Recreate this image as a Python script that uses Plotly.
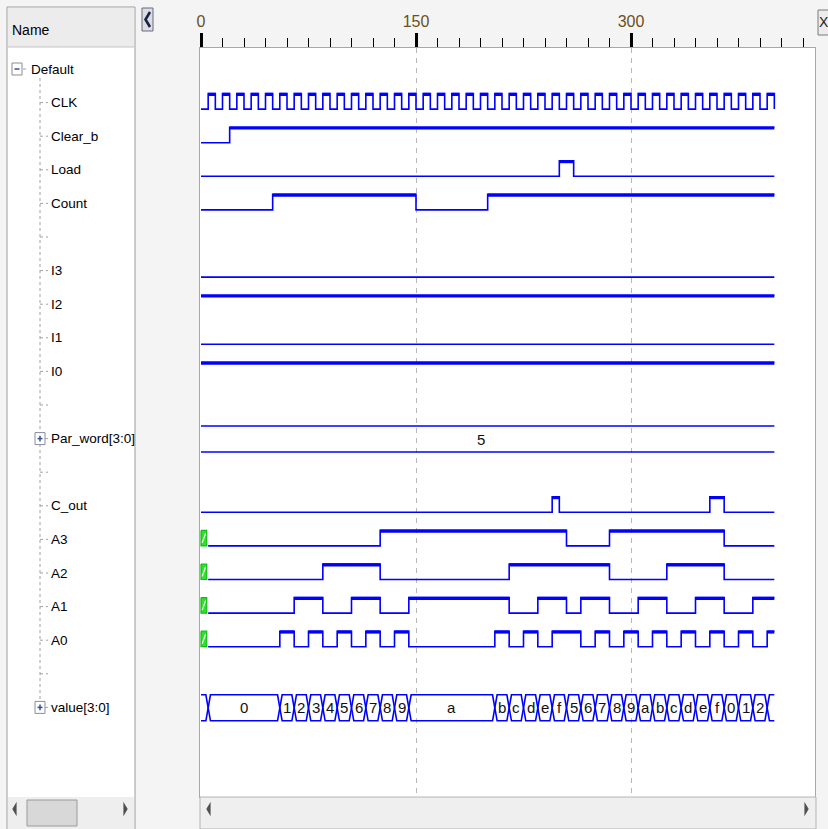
import plotly.graph_objects as go

W, H = 828, 829
END = 400  # ns, last simulated time

# ---- waveform data (ns) ----
clk_rise = [5, 15, 25, 35, 45, 55, 65, 75, 85, 95, 105, 115, 125, 135, 145, 155, 165, 175, 185, 195,
            205, 215, 225, 235, 245, 255, 265, 275, 285, 295, 305, 315, 325, 335, 345, 355, 365, 375, 385, 395]
clk_fall = [10, 20, 30, 40, 50, 60, 70, 80, 90, 100, 110, 120, 130, 140, 150, 160, 170, 180, 190, 200,
            210, 220, 230, 240, 250, 260, 270, 280, 290, 300, 310, 320, 330, 340, 350, 360, 370, 380, 390, 400]

clear_b_t = [0, 20]
clear_b_v = [0, 1]
load_t = [0, 250, 260]
load_v = [0, 1, 0]
count_t = [0, 50, 150, 200]
count_v = [0, 1, 0, 1]
i_t = [0]
i3_v = [0]
i2_v = [1]
i1_v = [0]
i0_v = [1]
par_word_t = [0]
par_word_lbl = ["5"]
c_out_t = [0, 245, 250, 355, 365]
c_out_v = [0, 1, 0, 1, 0]
a3_t = [5, 125, 255, 285, 365]
a3_v = [0, 1, 0, 1, 0]
a2_t = [5, 85, 125, 215, 285, 325, 365]
a2_v = [0, 1, 0, 1, 0, 1, 0]
a1_t = [5, 65, 85, 105, 125, 145, 215, 235, 255, 265, 285, 305, 325, 345, 365, 385]
a1_v = [0, 1, 0, 1, 0, 1, 0, 1, 0, 1, 0, 1, 0, 1, 0, 1]
a0_t = [5, 55, 65, 75, 85, 95, 105, 115, 125, 135, 145, 205, 215, 225, 235, 245, 265, 275, 285, 295,
        305, 315, 325, 335, 345, 355, 365, 375, 385, 395]
a0_v = [0, 1, 0, 1, 0, 1, 0, 1, 0, 1, 0, 1, 0, 1, 0, 1, 0, 1, 0, 1,
        0, 1, 0, 1, 0, 1, 0, 1, 0, 1]
value_t = [0, 5, 55, 65, 75, 85, 95, 105, 115, 125, 135, 145, 205, 215, 225, 235, 245, 255, 265, 275,
           285, 295, 305, 315, 325, 335, 345, 355, 365, 375, 385, 395]
value_lbl = ["x", "0", "1", "2", "3", "4", "5", "6", "7", "8", "9", "a", "b", "c", "d", "e", "f", "5", "6", "7",
             "8", "9", "a", "b", "c", "d", "e", "f", "0", "1", "2", "3"]

row_names = ["CLK", "Clear_b", "Load", "Count", "", "I3", "I2", "I1", "I0", "", "Par_word[3:0]", "",
             "C_out", "A3", "A2", "A1", "A0", "", "value[3:0]"]
ruler_ticks = [0, 150, 300]

BLUE = "#0000ff"
FONT = "Liberation Sans, Arial, sans-serif"
ROW0, PITCH = 69, 33.6
HI, LO = -9, 6.5


def row_y(i):
    return ROW0 + PITCH * i


def px(x):
    return x / W


def py(y):
    return 1 - y / H


fig = go.Figure()


def digital(row, times, levels):
    c = row_y(row)
    ys = [c + (HI if v else LO) for v in levels]
    fig.add_trace(go.Scatter(x=times + [END], y=ys + [ys[-1]], mode="lines",
                             line=dict(color=BLUE, width=1.6, shape="hv"), hoverinfo="skip"))
    bounds = times + [END]
    hx, hy = [], []
    for k, v in enumerate(levels):
        if v and bounds[k + 1] > bounds[k]:
            hx += [bounds[k], bounds[k + 1], None]
            hy += [c + HI + 0.8, c + HI + 0.8, None]
    if hx:
        fig.add_trace(go.Scatter(x=hx, y=hy, mode="lines", line=dict(color=BLUE, width=3.2),
                                 hoverinfo="skip"))


def unknown_box(row, t_end):
    c = row_y(row)
    top, bot = c + HI, c + LO
    t1 = t_end - 1
    fig.add_trace(go.Scatter(x=[0, t1, t1, 0, 0], y=[top, top, bot, bot, top], mode="lines",
                             fill="toself", fillcolor="#2fe02f", line=dict(color="#10c010", width=1.2),
                             hoverinfo="skip"))
    fig.add_trace(go.Scatter(x=[0.8, t1 - 0.8], y=[bot - 3, top + 3], mode="lines",
                             line=dict(color="white", width=1.2), hoverinfo="skip"))


def bus(row, times, labels, d=1.6, half=13):
    c = row_y(row) + 0.4
    top, bot = c - half, c + half
    bounds = times + [END]
    tx, ty, bx, by = [], [], [], []
    for k, lab in enumerate(labels):
        t0, t1 = bounds[k], bounds[k + 1]
        xs, yt, yb = [], [], []
        if t0 > 0:
            xs.append(t0); yt.append(c); yb.append(c)
        xs += [t0 + (d if t0 > 0 else 0), t1 - (d if t1 < END else 0)]
        yt += [top, top]
        yb += [bot, bot]
        if t1 < END:
            xs.append(t1); yt.append(c); yb.append(c)
        tx += xs + [None]; ty += yt + [None]
        bx += xs + [None]; by += yb + [None]
        if t1 - t0 >= 8 and t1 < END:
            fig.add_annotation(x=(t0 + t1) / 2, y=c, xref="x", yref="y", text=lab, showarrow=False,
                               yanchor="middle", font=dict(family=FONT, size=15, color="#111111"))
        elif t1 == END and len(labels) == 1:
            fig.add_annotation(x=(t0 + t1) / 2 - 5, y=c, xref="x", yref="y", text=lab, showarrow=False,
                               yanchor="middle", font=dict(family=FONT, size=15, color="#111111"))
    fig.add_trace(go.Scatter(x=tx, y=ty, mode="lines", line=dict(color=BLUE, width=1.6), hoverinfo="skip"))
    fig.add_trace(go.Scatter(x=bx, y=by, mode="lines", line=dict(color=BLUE, width=1.6), hoverinfo="skip"))


# clock path from its edges
clk_t, clk_v = [0], [0]
for r, f in zip(clk_rise, clk_fall):
    clk_t += [r, f]
    clk_v += [1, 0]

digital(1, clk_t, clk_v)
digital(2, clear_b_t, clear_b_v)
digital(3, load_t, load_v)
digital(4, count_t, count_v)
digital(6, i_t, i3_v)
digital(7, i_t, i2_v)
digital(8, i_t, i1_v)
digital(9, i_t, i0_v)
bus(11, par_word_t, par_word_lbl)
digital(13, c_out_t, c_out_v)
for row, (tt, vv) in zip([14, 15, 16, 17], [(a3_t, a3_v), (a2_t, a2_v), (a1_t, a1_v), (a0_t, a0_v)]):
    unknown_box(row, tt[0])
    digital(row, tt, vv)
bus(19, value_t, value_lbl)

# ---- window chrome ----
shapes = []


def rect(x0, y0, x1, y1, fill, line="rgba(0,0,0,0)", width=1):
    shapes.append(dict(type="rect", xref="paper", yref="paper", x0=px(x0), x1=px(x1), y0=py(y0), y1=py(y1),
                       fillcolor=fill, line=dict(color=line, width=width), layer="above"))


def seg(x0, y0, x1, y1, color, width=1, dash="solid"):
    shapes.append(dict(type="line", xref="paper", yref="paper", x0=px(x0), x1=px(x1), y0=py(y0), y1=py(y1),
                       line=dict(color=color, width=width, dash=dash), layer="above"))


def path(pts, color, width=1, fill=None):
    d = "M " + " L ".join(f"{px(x)},{py(y)}" for x, y in pts)
    if fill:
        d += " Z"
    shapes.append(dict(type="path", xref="paper", yref="paper", path=d, line=dict(color=color, width=width),
                       fillcolor=fill or "rgba(0,0,0,0)", layer="above"))


def label(x, y, text, size=14, anchor="left", color="black"):
    fig.add_annotation(x=px(x), y=py(y), xref="paper", yref="paper", text=text, showarrow=False,
                       xanchor=anchor, yanchor="middle", font=dict(family=FONT, size=size, color=color))


# left name panel
rect(7, 7, 135, 830, "white", "#9c9c9c")
rect(8, 8, 134, 47, "#ececec")
seg(8, 47, 134, 47, "#c4c4c4")
rect(8, 797, 134, 829, "#eeeeee")
rect(27, 800, 77, 826, "#d8d8d8", "#9a9a9a")
path([(16, 804), (13, 809), (16, 814)], "#505050", 1.2, "#505050")
path([(124, 804), (127, 809), (124, 814)], "#505050", 1.2, "#505050")

# tree lines and boxes
seg(40, 78, 40, 700, "#a0a0a0", 1, "dot")
rect(12, 63, 22, 75, "white", "#8a8a9a")
seg(14.5, 69, 19.5, 69, "#3050a0", 1.5)
seg(23, 69, 29, 69, "#a0a0a0", 1, "dot")
for i, name in enumerate(row_names, start=1):
    c = row_y(i)
    if name.endswith("]"):
        rect(35, c - 6, 45, c + 6, "white", "#8a8a9a")
        seg(37.5, c, 42.5, c, "#3050a0", 1.5)
        seg(40, c - 2.8, 40, c + 2.8, "#3050a0", 1.5)
        seg(45, c, 49, c, "#a0a0a0", 1, "dot")
    else:
        seg(40, c, 48, c, "#a0a0a0", 1, "dot")
    if name:
        label(49, c, name, 13.5)
label(29, 69, "Default", 13.5)
label(10, 30, "Name", 14)

# collapse button between panels
rect(142, 8, 153, 31, "#dcdce6", "#6a6a7a")
path([(150, 12), (145.5, 19.5), (150, 27)], "#1a2440", 2.6)

# waveform scrollbar
rect(200, 797, 816, 829, "#efefef", "#b4b4b4")
path([(210, 804), (207, 809), (210, 814)], "#505050", 1.2, "#505050")
path([(805, 804), (808, 809), (805, 814)], "#505050", 1.2, "#505050")

# close button
rect(818, 10, 831, 35, "#ececec", "#7a7a7a")
label(824, 22, "X", 14, "center", "#222222")

# ---- axes: time on x, pixel rows on y ----
S = 430 / 300  # px per ns
minor_vals = [t for t in range(15, 421, 15) if t not in ruler_ticks]
fig.update_layout(
    width=W, height=H,
    margin=dict(l=0, r=0, t=0, b=0, autoexpand=False),
    paper_bgcolor="#f4f4f4",
    plot_bgcolor="white",
    showlegend=False,
    shapes=shapes,
    xaxis=dict(
        domain=[px(200), px(815)], range=[(200 - 201) / S, (815 - 201) / S],
        side="top", showline=True, mirror=True, linecolor="#a8a8a8", linewidth=1,
        tickmode="array", tickvals=ruler_ticks, ticktext=[str(t) for t in ruler_ticks],
        ticks="outside", ticklen=14, tickwidth=3, tickcolor="black",
        tickfont=dict(family=FONT, size=16, color="#6b5020"),
        showgrid=True, gridcolor="#b8b8b8", gridwidth=1, griddash="5px,5px",
        minor=dict(tickmode="array", tickvals=minor_vals, ticks="outside", ticklen=9, tickwidth=1,
                   tickcolor="black", showgrid=False),
        zeroline=False, fixedrange=True, automargin=False,
    ),
    yaxis=dict(
        domain=[py(797), py(48)], range=[797, 48],
        showline=True, mirror=True, linecolor="#a8a8a8", linewidth=1,
        showticklabels=False, showgrid=False, zeroline=False, ticks="", fixedrange=True, automargin=False,
    ),
)

fig.write_html("out.html", config={"displayModeBar": False},
               post_script="document.body.style.margin='0px';")
